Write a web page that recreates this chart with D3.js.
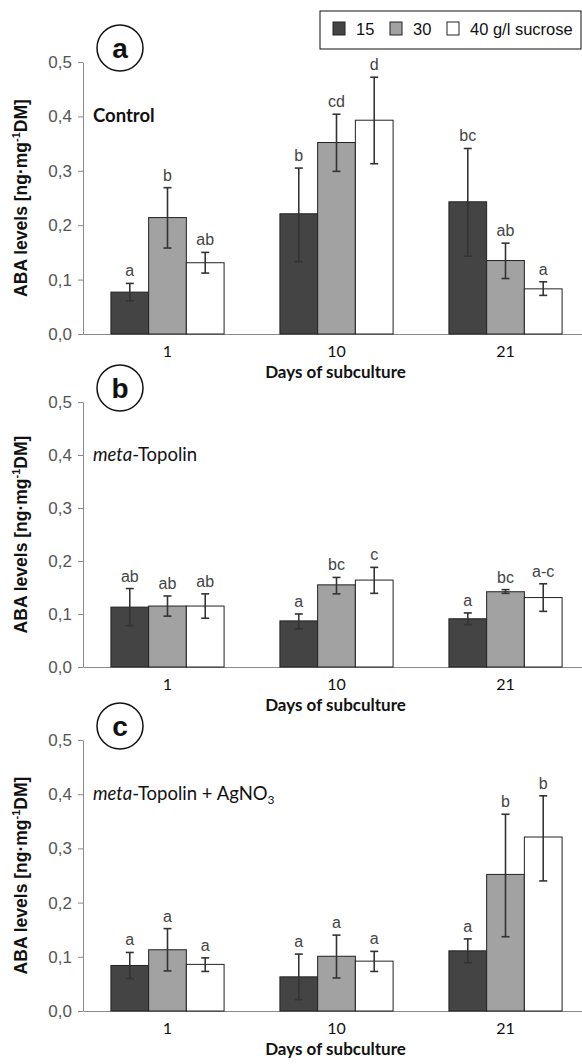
<!DOCTYPE html>
<html><head><meta charset="utf-8">
<script src="https://cdn.jsdelivr.net/npm/d3@7"></script>
<style>
body{margin:0;background:#fff;}
svg{display:block;}
</style></head>
<body>
<svg id="chart" width="582" height="1064"></svg>
<script>
// ---------- data ----------
const categories = ["1", "10", "21"];
const seriesNames = ["15", "30", "40 g/l sucrose"];
const seriesColors = ["#444444", "#a2a2a2", "#ffffff"];
const yTicks = [0, 0.1, 0.2, 0.3, 0.4, 0.5];

// panel a: Control  (rows = series 15, 30, 40; columns = day 1, 10, 21)
const ctrlMean = [[0.077, 0.221, 0.243], [0.214, 0.352, 0.135], [0.131, 0.393, 0.083]];
const ctrlLow  = [[0.061, 0.133, 0.143], [0.158, 0.299, 0.102], [0.112, 0.313, 0.071]];
const ctrlHigh = [[0.093, 0.305, 0.341], [0.269, 0.404, 0.167], [0.150, 0.472, 0.096]];
const ctrlLetters = [["a", "b", "bc"], ["b", "cd", "ab"], ["ab", "d", "a"]];

// panel b: meta-Topolin
const mtMean = [[0.113, 0.087, 0.091], [0.115, 0.155, 0.142], [0.115, 0.164, 0.131]];
const mtLow  = [[0.078, 0.072, 0.080], [0.096, 0.138, 0.139], [0.092, 0.139, 0.105]];
const mtHigh = [[0.148, 0.100, 0.102], [0.134, 0.169, 0.146], [0.138, 0.188, 0.157]];
const mtLetters = [["ab", "a", "a"], ["ab", "bc", "bc"], ["ab", "c", "a-c"]];

// panel c: meta-Topolin + AgNO3
const agMean = [[0.084, 0.063, 0.111], [0.113, 0.101, 0.252], [0.086, 0.092, 0.321]];
const agLow  = [[0.060, 0.021, 0.089], [0.074, 0.061, 0.137], [0.073, 0.073, 0.240]];
const agHigh = [[0.108, 0.105, 0.133], [0.152, 0.140, 0.363], [0.098, 0.110, 0.397]];
const agLetters = [["a", "a", "a"], ["a", "a", "b"], ["a", "a", "b"]];

const panels = [
  {tag: "a", label: "control", mean: ctrlMean, low: ctrlLow, high: ctrlHigh, letters: ctrlLetters, top: 62, base: 334},
  {tag: "b", label: "mt", mean: mtMean, low: mtLow, high: mtHigh, letters: mtLetters, top: 402, base: 667},
  {tag: "c", label: "ag", mean: agMean, low: agLow, high: agHigh, letters: agLetters, top: 740, base: 1011}
];

// ---------- drawing ----------
const svg = d3.select("#chart");
const xLeft = 83, xRight = 590;
const calibri = "Lato, 'Open Sans', sans-serif";
const arial = "'Liberation Sans', Arial, sans-serif";

const x = d3.scaleBand().domain(categories).range([xLeft, xRight]).paddingInner(0).paddingOuter(0);
const xs = d3.scaleBand().domain(seriesNames).range([0, x.bandwidth()]).paddingInner(0).paddingOuter(0.74);

panels.forEach(p => {
  const y = d3.scaleLinear().domain([0, 0.5]).range([p.base, p.top]);
  const g = svg.append("g");

  // y axis
  const ya = g.append("g").attr("transform", `translate(${xLeft},0)`)
    .call(d3.axisLeft(y).tickValues(yTicks).tickSize(5).tickSizeOuter(0).tickPadding(6)
      .tickFormat(d => d.toFixed(1).replace(".", ",")));
  ya.select(".domain").attr("stroke", "#8a8a8a");
  ya.selectAll(".tick line").attr("stroke", "#8a8a8a");
  ya.selectAll(".tick text").attr("font-family", arial).attr("font-size", 17).attr("fill", "#555");

  // x axis
  const xa = g.append("g").attr("transform", `translate(0,${p.base})`)
    .call(d3.axisBottom(x).tickSize(0).tickSizeOuter(0).tickPadding(12));
  xa.select(".domain").attr("stroke", "#8a8a8a");
  xa.selectAll(".tick text").attr("font-family", calibri).attr("font-size", 16).attr("fill", "#111");

  // x title
  g.append("text").attr("x", (xLeft + xRight) / 2 - 1).attr("y", p.base + 44)
    .attr("text-anchor", "middle").attr("font-family", calibri).attr("font-weight", "bold")
    .attr("font-size", 17).attr("fill", "#111").text("Days of subculture");

  // y title
  const yt = g.append("text")
    .attr("transform", `translate(27,${(p.top + p.base) / 2}) rotate(-90)`)
    .attr("text-anchor", "middle").attr("font-family", arial).attr("font-weight", "bold")
    .attr("font-size", 17.5).attr("fill", "#111");
  yt.append("tspan").text("ABA levels [ng·mg");
  yt.append("tspan").attr("font-size", 11).attr("dy", -7).text("-1");
  yt.append("tspan").attr("dy", 7).text("DM]");

  // bars
  seriesNames.forEach((s, si) => {
    categories.forEach((c, ci) => {
      const bx = x(c) + xs(s);
      const bw = xs.bandwidth();
      const v = p.mean[si][ci];
      g.append("rect").attr("x", bx).attr("y", y(v)).attr("width", bw).attr("height", y(0) - y(v))
        .attr("fill", seriesColors[si]).attr("stroke", "#222").attr("stroke-width", 1);
    });
  });
  // error bars and letters
  seriesNames.forEach((s, si) => {
    categories.forEach((c, ci) => {
      const cx = x(c) + xs(s) + xs.bandwidth() / 2;
      const lo = p.low[si][ci], hi = p.high[si][ci];
      const eg = g.append("g").attr("stroke", "#333").attr("stroke-width", 1.6);
      eg.append("line").attr("x1", cx).attr("x2", cx).attr("y1", y(lo)).attr("y2", y(hi));
      eg.append("line").attr("x1", cx - 4).attr("x2", cx + 4).attr("y1", y(lo)).attr("y2", y(lo));
      eg.append("line").attr("x1", cx - 4).attr("x2", cx + 4).attr("y1", y(hi)).attr("y2", y(hi));
      g.append("text").attr("x", cx).attr("y", y(hi) - 7).attr("text-anchor", "middle")
        .attr("font-family", arial).attr("font-size", 16).attr("fill", "#444").text(p.letters[si][ci]);
    });
  });

  // circle tag
  g.append("circle").attr("cx", 120).attr("cy", p.top - 14).attr("r", 23)
    .attr("fill", "#fff").attr("stroke", "#111").attr("stroke-width", 1.5);
  g.append("text").attr("x", 120).attr("y", p.top - 4).attr("text-anchor", "middle")
    .attr("font-family", arial).attr("font-weight", "bold").attr("font-size", 28).attr("fill", "#111").text(p.tag);

  // treatment label
  const tl = g.append("text").attr("x", 93).attr("y", y(0.4) + 6)
    .attr("font-family", calibri).attr("font-size", 18.5).attr("fill", "#111");
  if (p.label === "control") {
    tl.attr("font-weight", "bold").text("Control");
  } else {
    tl.append("tspan").attr("font-style", "italic").text("meta");
    tl.append("tspan").text("-Topolin");
    if (p.label === "ag") {
      tl.append("tspan").text(" + AgNO");
      tl.append("tspan").attr("font-size", 12).attr("dy", 4).text("3");
    }
  }
});

// legend
const lg = svg.append("g");
lg.append("rect").attr("x", 320).attr("y", 11).attr("width", 261).attr("height", 38)
  .attr("fill", "#fff").attr("stroke", "#111").attr("stroke-width", 1);
const legX = [333, 390, 447];
const legTextX = [356, 413, 470];
seriesNames.forEach((s, i) => {
  lg.append("rect").attr("x", legX[i]).attr("y", 22).attr("width", 12).attr("height", 13)
    .attr("fill", seriesColors[i]).attr("stroke", "#222").attr("stroke-width", 1);
  lg.append("text").attr("x", legTextX[i]).attr("y", 35).attr("font-family", arial)
    .attr("font-size", 16.5).attr("fill", "#111").text(s);
});
</script>
</body></html>
